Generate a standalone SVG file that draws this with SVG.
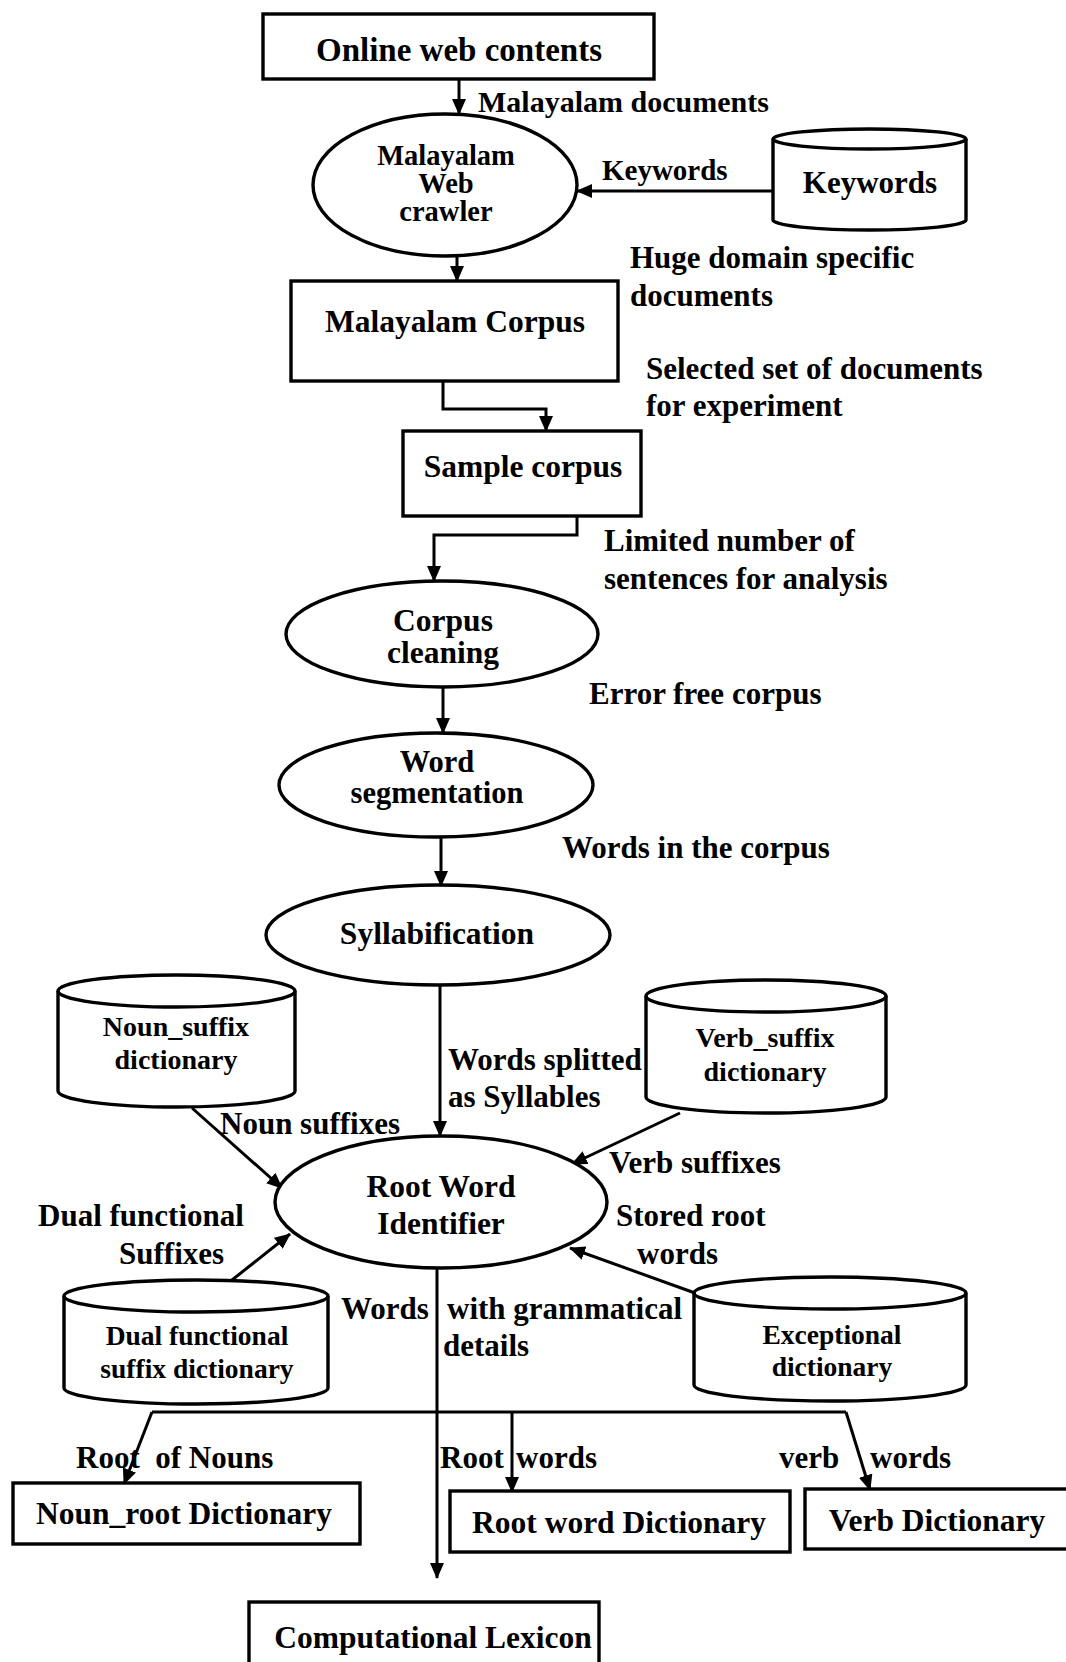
<svg xmlns="http://www.w3.org/2000/svg" width="1066" height="1662" viewBox="0 0 1066 1662">
  <style>
    .shape { fill: #fff; stroke: #000; stroke-width: 3.4; }
    .cyl { fill: none; stroke: #000; stroke-width: 3.4; }
    .edge { fill: none; stroke: #000; stroke-width: 3; }
    .arr { marker-end: url(#head); }
    text { font-family: "Liberation Serif", "Times New Roman", serif; font-weight: bold; fill: #000; }
    .node { font-size: 31.5px; text-anchor: middle; }
    .db { font-size: 28px; text-anchor: middle; }
    .lbl { font-size: 31px; white-space: pre; }
  </style>
  <defs>
    <marker id="head" markerUnits="userSpaceOnUse" markerWidth="16" markerHeight="14" refX="15" refY="7" orient="auto">
      <path d="M0,0 L16,7 L0,14 z" fill="#000"/>
    </marker>
  </defs>

  <rect width="1066" height="1662" fill="#fff"/>

  <!-- connectors -->
  <g id="connectors">
    <path class="edge arr" d="M459,79 V114"/>
    <path class="edge arr" d="M773,191 H577"/>
    <path class="edge arr" d="M457,256 V281"/>
    <path class="edge arr" d="M443,381 V409 H546 V431"/>
    <path class="edge arr" d="M577,516 V535 H434 V581"/>
    <path class="edge arr" d="M443,687 V733"/>
    <path class="edge arr" d="M441,837 V886"/>
    <path class="edge arr" d="M440,985 V1136"/>
    <path class="edge arr" d="M192,1108 L282,1188"/>
    <path class="edge arr" d="M680,1113 L572,1164"/>
    <path class="edge arr" d="M232,1280 L290,1234"/>
    <path class="edge arr" d="M695,1293 L570,1248"/>
    <path class="edge arr" d="M437,1268 V1578"/>
    <path class="edge" d="M152,1412 H846"/>
    <path class="edge arr" d="M152,1412 L124,1484"/>
    <path class="edge arr" d="M512,1412 V1492"/>
    <path class="edge arr" d="M846,1412 L870,1490"/>
  </g>

  <!-- edge labels -->
  <g id="labels">
    <text class="lbl" x="478" y="112" style="font-size:30px">Malayalam documents</text>
    <text class="lbl" x="602" y="180" style="font-size:29px">Keywords</text>
    <text class="lbl" x="630" y="268">Huge domain specific</text>
    <text class="lbl" x="630" y="306">documents</text>
    <text class="lbl" x="646" y="379">Selected set of documents</text>
    <text class="lbl" x="646" y="416">for experiment</text>
    <text class="lbl" x="604" y="551">Limited number of</text>
    <text class="lbl" x="604" y="589">sentences for analysis</text>
    <text class="lbl" x="589" y="704">Error free corpus</text>
    <text class="lbl" x="562" y="858">Words in the corpus</text>
    <text class="lbl" x="448" y="1070">Words splitted</text>
    <text class="lbl" x="448" y="1107">as Syllables</text>
    <text class="lbl" x="220" y="1134">Noun suffixes</text>
    <text class="lbl" x="609" y="1173">Verb suffixes</text>
    <text class="lbl" x="38" y="1226">Dual functional</text>
    <text class="lbl" x="119" y="1264">Suffixes</text>
    <text class="lbl" x="616" y="1226">Stored root</text>
    <text class="lbl" x="637" y="1264">words</text>
    <text class="lbl" x="341" y="1319">Words</text>
    <text class="lbl" x="447" y="1319">with grammatical</text>
    <text class="lbl" x="443" y="1356">details</text>
    <text class="lbl" x="76" y="1468">Root  of Nouns</text>
    <text class="lbl" y="1468"><tspan x="440">Root</tspan><tspan x="516">words</tspan></text>
    <text class="lbl" y="1468"><tspan x="779">verb</tspan><tspan x="870">words</tspan></text>
  </g>

  <!-- process nodes -->
  <g id="online-web-contents">
    <rect class="shape" x="263" y="14" width="391" height="65"/>
    <text class="node" x="459" y="61" style="font-size:33px">Online web contents</text>
  </g>

  <g id="web-crawler">
    <ellipse class="shape" cx="445" cy="185" rx="132" ry="71"/>
    <text class="node" x="446" y="165" style="font-size:28.5px">Malayalam</text>
    <text class="node" x="446" y="193" style="font-size:28.5px">Web</text>
    <text class="node" x="446" y="221" style="font-size:28.5px">crawler</text>
  </g>

  <g id="keywords-db">
    <path class="shape" d="M773,139 V220 A96.5,10 0 0 0 966,220 V139"/>
    <ellipse class="cyl" cx="869.5" cy="139" rx="96.5" ry="10"/>
    <text class="node" x="870" y="193" style="font-size:31px">Keywords</text>
  </g>

  <g id="malayalam-corpus">
    <rect class="shape" x="291" y="281" width="327" height="100"/>
    <text class="node" x="455" y="332">Malayalam Corpus</text>
  </g>

  <g id="sample-corpus">
    <rect class="shape" x="403" y="431" width="238" height="85"/>
    <text class="node" x="523" y="477">Sample corpus</text>
  </g>

  <g id="corpus-cleaning">
    <ellipse class="shape" cx="442" cy="634" rx="156" ry="53"/>
    <text class="node" x="443" y="631">Corpus</text>
    <text class="node" x="443" y="663">cleaning</text>
  </g>

  <g id="word-segmentation">
    <ellipse class="shape" cx="436" cy="785" rx="157" ry="52"/>
    <text class="node" x="437" y="772" style="font-size:30.5px">Word</text>
    <text class="node" x="437" y="803" style="font-size:30.5px">segmentation</text>
  </g>

  <g id="syllabification">
    <ellipse class="shape" cx="438" cy="935" rx="172" ry="50"/>
    <text class="node" x="437" y="944">Syllabification</text>
  </g>

  <g id="noun-suffix-db">
    <path class="shape" d="M58,991 V1091 A118.5,16 0 0 0 295,1091 V991"/>
    <ellipse class="cyl" cx="176.5" cy="991" rx="118.5" ry="16"/>
    <text class="db" x="176" y="1036">Noun_suffix</text>
    <text class="db" x="176" y="1069">dictionary</text>
  </g>

  <g id="verb-suffix-db">
    <path class="shape" d="M646,996 V1097 A120,16 0 0 0 886,1097 V996"/>
    <ellipse class="cyl" cx="766" cy="996" rx="120" ry="16"/>
    <text class="db" x="765" y="1047">Verb_suffix</text>
    <text class="db" x="765" y="1081">dictionary</text>
  </g>

  <g id="root-word-identifier">
    <ellipse class="shape" cx="441" cy="1202" rx="166" ry="66"/>
    <text class="node" x="441" y="1197">Root Word</text>
    <text class="node" x="441" y="1234">Identifier</text>
  </g>

  <g id="dual-suffix-db">
    <path class="shape" d="M64,1296 V1388 A132,16 0 0 0 328,1388 V1296"/>
    <ellipse class="cyl" cx="196" cy="1296" rx="132" ry="16"/>
    <text class="db" x="197" y="1345" style="font-size:27.5px">Dual functional</text>
    <text class="db" x="197" y="1378" style="font-size:27.5px">suffix dictionary</text>
  </g>

  <g id="exceptional-db">
    <path class="shape" d="M694,1293 V1385 A136,16 0 0 0 966,1385 V1293"/>
    <ellipse class="cyl" cx="830" cy="1293" rx="136" ry="16"/>
    <text class="db" x="832" y="1344" style="font-size:27.5px">Exceptional</text>
    <text class="db" x="832" y="1376" style="font-size:27.5px">dictionary</text>
  </g>

  <g id="noun-root-dictionary">
    <rect class="shape" x="13" y="1483" width="347" height="61"/>
    <text class="node" x="184" y="1524">Noun_root Dictionary</text>
  </g>

  <g id="root-word-dictionary">
    <rect class="shape" x="450" y="1491" width="340" height="61"/>
    <text class="node" x="619" y="1533">Root word Dictionary</text>
  </g>

  <g id="verb-dictionary">
    <rect class="shape" x="805" y="1489" width="265" height="60"/>
    <text class="node" x="937" y="1531">Verb Dictionary</text>
  </g>

  <g id="computational-lexicon">
    <rect class="shape" x="249" y="1602" width="350" height="90"/>
    <text class="node" x="433" y="1648">Computational Lexicon</text>
  </g>
</svg>
